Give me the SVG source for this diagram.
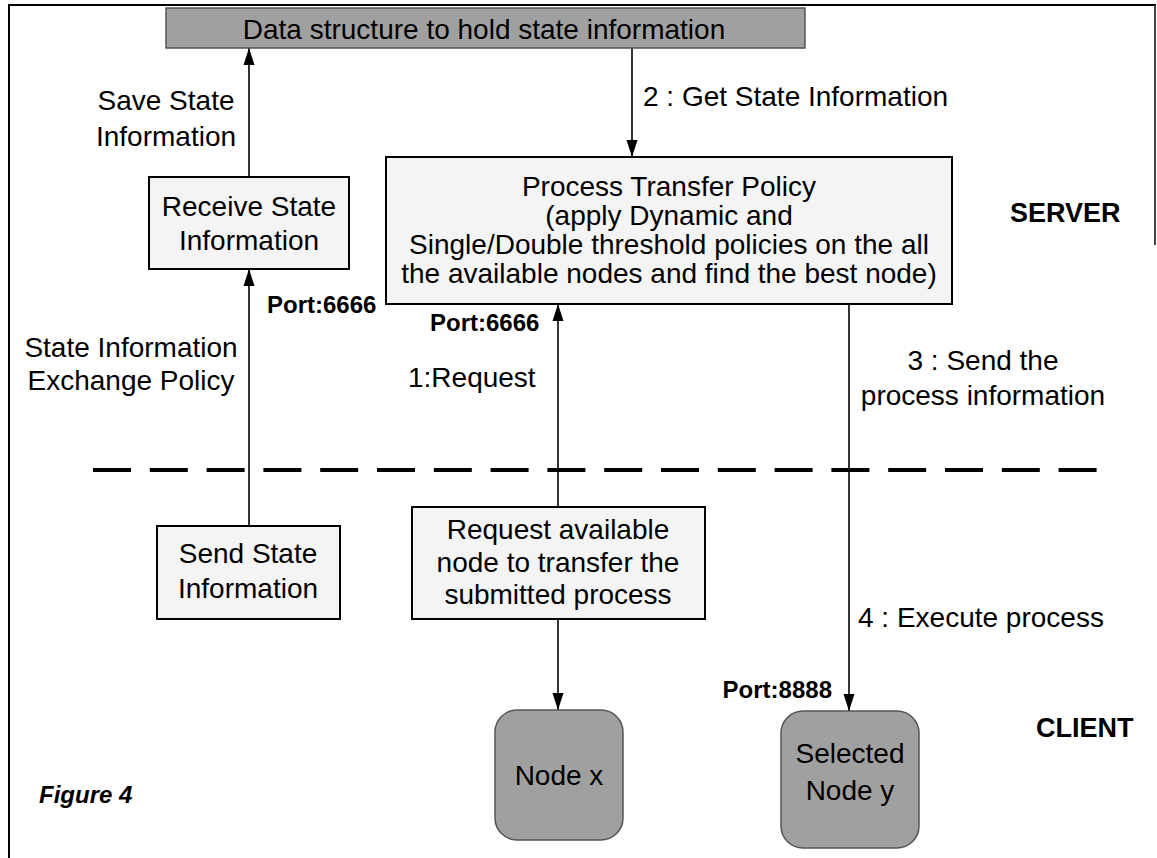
<svg xmlns="http://www.w3.org/2000/svg" width="1157" height="858" viewBox="0 0 1157 858">
  <style>
    .t { font-family: "Liberation Sans", Arial, sans-serif; font-size: 28px; fill: #000; }
    .c { text-anchor: middle; }
    .port { font-family: "Liberation Sans", Arial, sans-serif; font-size: 24px; font-weight: bold; fill: #000; }
    .zone { font-family: "Liberation Sans", Arial, sans-serif; font-size: 27px; font-weight: bold; fill: #000; }
    .box { fill: #f4f4f4; stroke: #000; stroke-width: 2; }
    .dark { fill: #a0a0a0; stroke: #555; stroke-width: 1.5; }
    .conn { stroke: #000; stroke-width: 1.6; fill: none; }
  </style>
  <defs>
    <marker id="arr" markerUnits="userSpaceOnUse" markerWidth="17" markerHeight="12" viewBox="0 0 17 12" refX="17" refY="6" orient="auto">
      <path d="M0,0.5 L17,6 L0,11.5 Z" fill="#000"/>
    </marker>
  </defs>
  <rect width="1157" height="858" fill="#fff"/>

  <!-- page frame -->
  <g id="frame" stroke="#000" stroke-width="2" fill="none">
    <line x1="8" y1="5" x2="1156" y2="5"/>
    <line x1="9" y1="5" x2="9" y2="858"/>
    <line x1="1155" y1="5" x2="1155" y2="245" stroke="#444"/>
  </g>

  <!-- server / client boundary -->
  <line id="boundary" x1="93" y1="470" x2="1100" y2="470" stroke="#000" stroke-width="4" stroke-dasharray="38 18.8"/>

  <g id="connectors">
    <line class="conn" x1="249" y1="177" x2="249" y2="48" marker-end="url(#arr)"/>
    <line class="conn" x1="249" y1="526" x2="249" y2="269" marker-end="url(#arr)"/>
    <line class="conn" x1="632" y1="48" x2="632" y2="157" marker-end="url(#arr)"/>
    <line class="conn" x1="558" y1="507" x2="558" y2="304" marker-end="url(#arr)"/>
    <line class="conn" x1="849" y1="304" x2="849" y2="711" marker-end="url(#arr)"/>
    <line class="conn" x1="558" y1="619" x2="558" y2="710" marker-end="url(#arr)"/>
  </g>

  <g id="state-store">
    <rect class="dark" x="166" y="8" width="639" height="40"/>
    <text class="t c" x="484" y="39">Data structure to hold state information</text>
  </g>

  <g id="receive-state">
    <rect class="box" x="149" y="177" width="200" height="92"/>
    <text class="t c" x="249" y="216">Receive State</text>
    <text class="t c" x="249" y="250">Information</text>
  </g>

  <g id="transfer-policy">
    <rect class="box" x="386" y="157" width="566" height="147"/>
    <text class="t c" x="669" y="196">Process Transfer Policy</text>
    <text class="t c" x="669" y="225">(apply Dynamic and</text>
    <text class="t c" x="669" y="254">Single/Double threshold policies on the all</text>
    <text class="t c" x="669" y="283">the available nodes and find the best node)</text>
  </g>

  <g id="send-state">
    <rect class="box" x="157" y="526" width="183" height="93"/>
    <text class="t c" x="248" y="563">Send State</text>
    <text class="t c" x="248" y="598">Information</text>
  </g>

  <g id="request-node">
    <rect class="box" x="412" y="507" width="293" height="112"/>
    <text class="t c" x="558" y="539">Request available</text>
    <text class="t c" x="558" y="572">node to transfer the</text>
    <text class="t c" x="558" y="604">submitted process</text>
  </g>

  <g id="node-x">
    <rect class="dark" x="495" y="710" width="128" height="130" rx="22" ry="22"/>
    <text class="t c" x="559" y="785">Node x</text>
  </g>

  <g id="node-y">
    <rect class="dark" x="781" y="711" width="138" height="137" rx="22" ry="22"/>
    <text class="t c" x="850" y="763">Selected</text>
    <text class="t c" x="850" y="800">Node y</text>
  </g>

  <g id="labels">
    <text class="t c" x="166" y="110">Save State</text>
    <text class="t c" x="166" y="146">Information</text>
    <text class="t" x="643" y="106">2 : Get State Information</text>
    <text class="port" x="267" y="313">Port:6666</text>
    <text class="port" x="430" y="331">Port:6666</text>
    <text class="t c" x="131" y="357">State Information</text>
    <text class="t c" x="131" y="390">Exchange Policy</text>
    <text class="t" x="408" y="387">1:Request</text>
    <text class="t c" x="983" y="370">3 : Send the</text>
    <text class="t c" x="983" y="405">process information</text>
    <text class="t" x="858" y="627">4 : Execute process</text>
    <text class="port" x="832" y="698" text-anchor="end">Port:8888</text>
    <text class="zone" x="1010" y="222" font-size="28">SERVER</text>
    <text class="zone" x="1036" y="737" font-size="26">CLIENT</text>
    <text class="port" x="39" y="803" font-style="italic">Figure 4</text>
  </g>
</svg>
